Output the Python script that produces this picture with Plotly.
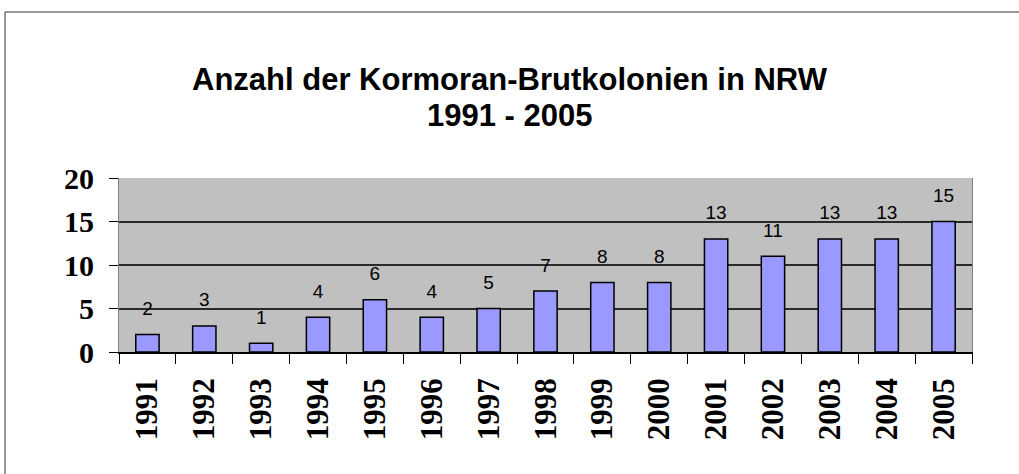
import plotly.graph_objects as go

years = ["1991", "1992", "1993", "1994", "1995", "1996", "1997", "1998",
         "1999", "2000", "2001", "2002", "2003", "2004", "2005"]
colonies = [2, 3, 1, 4, 6, 4, 5, 7, 8, 8, 13, 11, 13, 13, 15]
y_ticks = [0, 5, 10, 15, 20]
title_lines = ["Anzahl der Kormoran-Brutkolonien in NRW", "1991 - 2005"]

L, R, T, B = 119, 47, 178, 122
PW, PH = 1019 - L - R, 474 - T - B

fig = go.Figure()
fig.add_trace(go.Bar(
    x=years, y=colonies,
    marker=dict(color="#9999FF", line=dict(color="black", width=1.5)),
    width=0.41,
))
# value labels, lifted above bar tops by an invisible marker
fig.add_trace(go.Scatter(
    x=years, y=colonies, mode="markers+text",
    text=[str(v) for v in colonies], textposition="top center",
    marker=dict(size=22, opacity=0),
    textfont=dict(family="Liberation Sans", size=19, color="black"),
    hoverinfo="skip", cliponaxis=False,
))

# title lines
for line, ypix in zip(title_lines, [80, 115]):
    fig.add_annotation(text=line, xref="paper", yref="paper",
                       x=(509.5 - L) / PW, y=(474 - B - ypix) / PH,
                       xanchor="center", yanchor="middle", showarrow=False,
                       font=dict(family="Liberation Sans", size=31,
                                 color="black", weight="bold"))

# outer chart border
fig.add_shape(type="rect", xref="paper", yref="paper",
              x0=(5 - L) / PW, x1=2.0, y0=-3.0, y1=(474 - B - 12) / PH,
              line=dict(color="#333333", width=1), layer="below")

fig.update_layout(
    width=1019, height=474,
    margin=dict(l=L, r=R, t=T, b=B),
    paper_bgcolor="white", plot_bgcolor="#C0C0C0",
    showlegend=False,
    xaxis=dict(type="category", tickangle=-90, tickson="boundaries",
               ticks="outside", ticklen=10, tickcolor="black", tickwidth=1,
               showline=True, linecolor="black", linewidth=1.5, mirror=False,
               showgrid=False, automargin=False, range=[-0.5, 14.5],
               ticklabelstandoff=12,
               tickfont=dict(family="Liberation Serif", size=31, color="black",
                             weight="bold")),
    yaxis=dict(range=[0, 20], tickvals=y_ticks, ticks="outside", ticklen=9,
               tickcolor="black", tickwidth=1,
               showline=True, linecolor="#808080", linewidth=1, mirror=True,
               showgrid=True, gridcolor="#2a2a2a", gridwidth=2,
               zeroline=False, automargin=False, ticklabelstandoff=9,
               tickfont=dict(family="Liberation Serif", size=30, color="black",
                             weight="bold")),
)

fig.write_html("out.html", config={"displayModeBar": False},
               post_script="document.body.style.margin='0px';")
